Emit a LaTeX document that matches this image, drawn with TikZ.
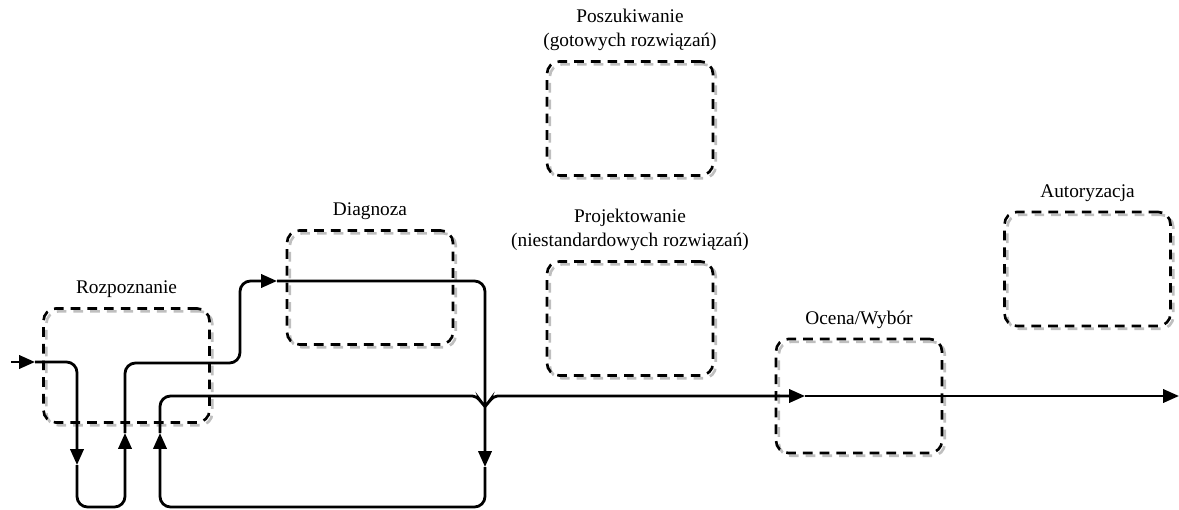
\documentclass[tikz,border=0pt]{standalone}
\usepackage{fontspec}
\setmainfont{Liberation Serif}
\usetikzlibrary{arrows.meta}
\begin{document}
\begin{tikzpicture}[x=0.02cm,y=-0.02cm,
  stage/.style={draw=black, line width=1.5pt, dash pattern=on 5.5pt off 4pt,
    rounded corners=7pt, minimum width=3.32cm, minimum height=2.28cm, inner sep=0pt,
    preaction={draw=black!25, line width=1.5pt, dash pattern=on 5.5pt off 4pt,
      transform canvas={shift={(1.6pt,-1.6pt)}}}},
  lbl/.style={font=\fontsize{11}{14}\selectfont, align=center, inner sep=0pt, label distance=5pt},
  flow/.style={line width=1.6pt, rounded corners=6pt, -{Triangle[length=9pt,width=7.5pt]}}
]
\useasboundingbox (0,0) rectangle (1179,510);

\node[stage, label={[lbl]above:Rozpoznanie}] (rozp) at (126.5,365.5) {};
\node[stage, label={[lbl]above:Diagnoza}] (diag) at (370,287.5) {};
\node[stage, label={[lbl]above:Poszukiwanie\\(gotowych rozwiązań)}] (posz) at (630,118.5) {};
\node[stage, label={[lbl]above:Projektowanie\\(niestandardowych rozwiązań)}] (proj) at (630,318.5) {};
\node[stage, label={[lbl]above:Ocena/Wybór}] (ocena) at (859,396) {};
\node[stage, label={[lbl]above:Autoryzacja}] (autor) at (1087.5,269) {};

\coordinate (start) at (11,362);
\coordinate (a1) at (35,362);
\coordinate (a2) at (77,465);
\coordinate (a3) at (125,433);
\coordinate (a4) at (277,281);
\coordinate (a5) at (485,467);
\coordinate (a6) at (160,433);
\coordinate (a7) at (805,396);
\coordinate (finish) at (1179,396);

\draw[flow] (start) -- (a1);
\draw[flow] (a1) -| (a2);
\draw[flow] (a2) -- (77,507) -- (125,507) -- (a3);
\draw[flow] (a3) -- (125,363) -- (240,363) -- (240,281) -- (a4);
\draw[flow] (a4) -- (485,281) -- (a5);
\draw[flow] (a5) -- (485,507) -- (160,507) -- (a6);
\draw[flow] (a6) -- (160,396) -- (462,396)
  .. controls (478,396) and (482,404) .. (485,410)
  .. controls (488,404) and (492,396) .. (508,396) -- (a7);
\draw[flow] (a7) -- (finish);
\end{tikzpicture}
\end{document}
